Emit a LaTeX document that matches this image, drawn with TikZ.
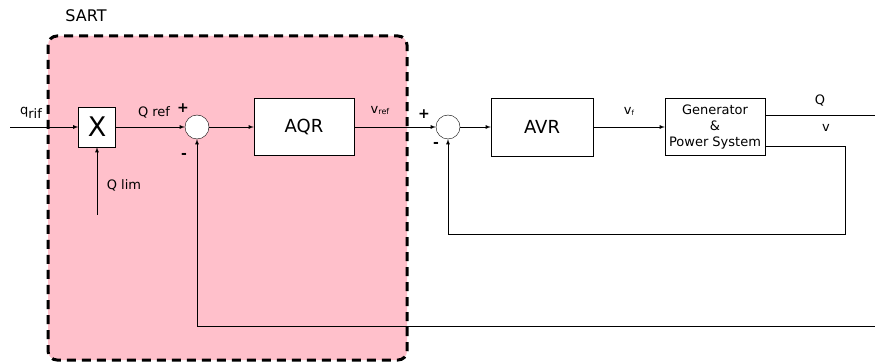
\documentclass[tikz,border=0pt]{standalone}
\usepackage{fontspec}
\setmainfont{DejaVu Sans}
\usepackage{tikz}
\usetikzlibrary{positioning}
\definecolor{sartpink}{RGB}{255,192,203}

\begin{document}
\begin{tikzpicture}[
        x=1pt, y=-1pt,
        blockbox/.style={
            draw,
            rectangle,
            fill=white,
            align=center,
            inner sep=0pt
        },
        sumnode/.style={draw, circle, fill=white, minimum size=24pt, inner sep=0pt},
        lbl/.style={font=\fontsize{13}{15}\selectfont, inner sep=0pt},
        sgn/.style={font=\fontsize{14}{16}\selectfont\bfseries, inner sep=0pt},
        sig/.style={->, >=latex, line width=0.8pt}
    ]
        \useasboundingbox (0,0) rectangle (875,363);

        % SART area
        \draw[fill=sartpink, line width=3pt, dash pattern=on 9pt off 6pt, rounded corners=9pt]
            (48,36) rectangle (407,360);
        \node[lbl, font=\fontsize{16}{18}\selectfont] (sart) at (86,16) {SART};

        % blocks
        \node[blockbox, minimum width=37pt, minimum height=40pt, font=\fontsize{27}{27}\selectfont] (mult) at (97,127) {X};
        \node[sumnode] (sumA) at (197,127) {};
        \node[blockbox, minimum width=100pt, minimum height=57pt, font=\fontsize{18}{20}\selectfont] (aqr) at (304,127) {AQR};
        \node[sumnode] (sumB) at (448,127) {};
        \node[blockbox, minimum width=102pt, minimum height=58pt, font=\fontsize{18}{20}\selectfont] (avr) at (542,127) {AVR};
        \node[blockbox, minimum width=100pt, minimum height=57pt, font=\fontsize{13}{16}\selectfont] (gen) at (715,127) {Generator\\\&\\Power System};

        % free ends
        \coordinate (qin) at (10,127);
        \coordinate (qlimin) at (97,215);
        \coordinate (qout) at (875,115);
        \coordinate (qret) at (875,326);
        \coordinate (vcorner) at (845,146);

        % labels
        \node[lbl] (qriflbl) at (31,113) {q\raisebox{-4pt}{rif}};
        \node[lbl] (qlimlbl) at (124,185) {Q lim};
        \node[lbl] (qreflbl) at (154,112) {Q ref};
        \node[sgn] (plusA) at (183,108) {+};
        \node[sgn] (minusA) at (184,156) {-};
        \node[lbl] (vreflbl) at (380,111) {v\raisebox{-1pt}{\fontsize{8}{8}\selectfont ref}};
        \node[sgn] (plusB) at (424,114) {+};
        \node[sgn] (minusB) at (436,145) {-};
        \node[lbl] (vflbl) at (629,111) {v\raisebox{-1pt}{\fontsize{7}{7}\selectfont f}};
        \node[lbl] (qlbl) at (820,101) {Q};
        \node[lbl] (vlbl) at (826,128) {v};

        % connectors
        \draw[sig] (qin) -- (mult);
        \draw[sig] (qlimin) -- (mult);
        \draw[sig] (mult) -- (sumA);
        \draw[sig] (sumA) -- (aqr);
        \draw[sig] (aqr) -- (sumB);
        \draw[sig] (sumB) -- (avr);
        \draw[sig] (avr) -- (gen);
        \draw[line width=0.8pt] (gen.east |- qout) -- (qout);
        \draw[sig] (gen.east |- vcorner) -- (vcorner) |- (448,234) -- (sumB);
        \draw[sig] (qret) -| (sumA);
    \end{tikzpicture}
\end{document}
